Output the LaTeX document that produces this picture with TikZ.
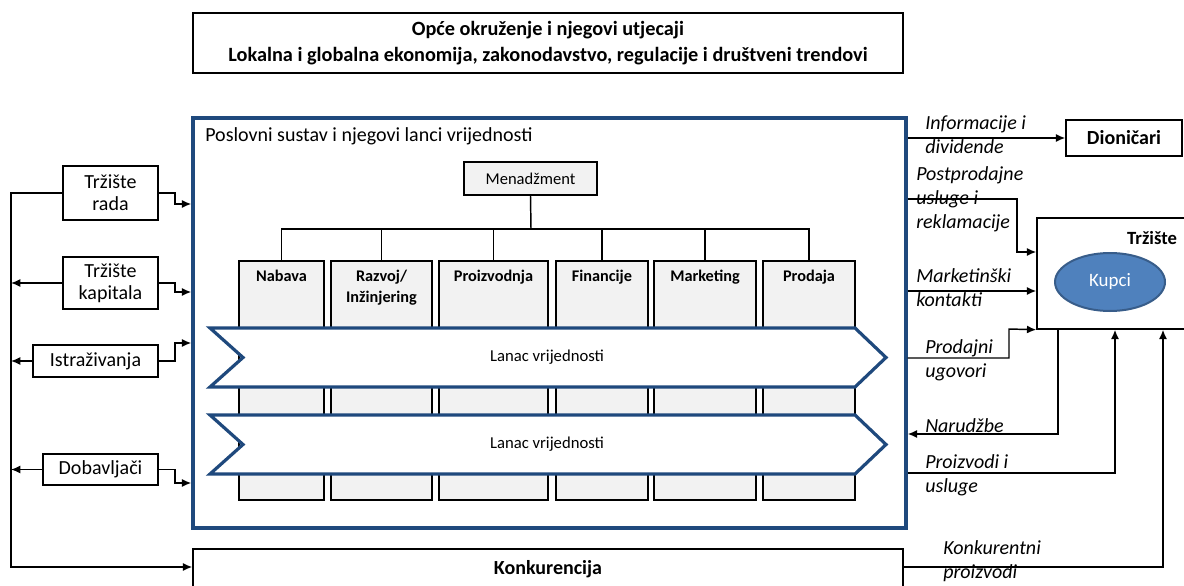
\documentclass[tikz,border=0pt]{standalone}
\usepackage{fontspec}
\setmainfont{Carlito}
\usetikzlibrary{arrows.meta,shapes.geometric}
\definecolor{navy}{RGB}{31,73,125}
\definecolor{lgray}{RGB}{242,242,242}
\definecolor{kupfill}{RGB}{79,129,189}
\definecolor{kupline}{RGB}{56,93,138}
\newlength\pxu
\setlength\pxu{0.75pt}
\begin{document}
\begin{tikzpicture}[x=0.75pt,y=-0.75pt,
  box/.style={draw, line width=1.1pt, inner sep=0pt, align=center},
  dept/.style={draw, line width=1.5pt, fill=lgray, inner sep=0pt, minimum height=239\pxu},
  depttext/.style={anchor=north, inner sep=0pt, align=center, font=\bfseries\fontsize{12.2}{15.5}\selectfont},
  chev/.style={draw=navy, fill=white, line width=2.4pt, line join=miter},
  ln/.style={line width=1.1pt},
  arr/.style={line width=1.1pt, -{Latex[length=7pt,width=6pt]}},
  lab/.style={anchor=west, align=left, inner sep=0pt, font=\itshape\fontsize{15}{18}\selectfont},
  big/.style={font=\fontsize{15}{16.5}\selectfont}
]
\useasboundingbox (0,0) rectangle (1184,585);
\clip (0,0) rectangle (1184,585);
\fill[white] (0,0) rectangle (1184,585);

% top box
\node[box, minimum width=710\pxu, minimum height=60\pxu, font=\bfseries\fontsize{15.2}{19.5}\selectfont] (env) at (548,43)
  {Opće okruženje i njegovi utjecaji\\Lokalna i globalna ekonomija, zakonodavstvo, regulacije i društveni trendovi};

% main box
\node[draw=navy, line width=2.6pt, minimum width=713\pxu, minimum height=410\pxu, inner sep=0pt] (main) at (549.5,323) {};
\node[anchor=west, inner sep=0pt, big] (maintitle) at (205,136) {Poslovni sustav i njegovi lanci vrijednosti};

% management
\node[draw, line width=1.5pt, fill=lgray, minimum width=133\pxu, minimum height=33\pxu, inner sep=0pt,
  font=\fontsize{12.4}{14}\selectfont] (men) at (530.5,178.5) {Menadžment};
\coordinate (bus) at (531,229);

% departments
\node[dept, minimum width=85\pxu]  (nab) at (281.5,380.5) {};
\node[dept, minimum width=101\pxu] (raz) at (381.5,380.5) {};
\node[dept, minimum width=109\pxu] (pro) at (493.5,380.5) {};
\node[dept, minimum width=92\pxu]  (fin) at (602,380.5) {};
\node[dept, minimum width=102\pxu] (mar) at (705,380.5) {};
\node[dept, minimum width=92\pxu]  (prd) at (809,380.5) {};
\node[depttext] (nabT) at (281.5,270) {Nabava};
\node[depttext] (razT) at (381.5,270) {Razvoj/\\Inžinjering};
\node[depttext] (proT) at (493.5,270) {Proizvodnja};
\node[depttext] (finT) at (602,270) {Financije};
\node[depttext] (marT) at (705,270) {Marketing};
\node[depttext] (prdT) at (809,270) {Prodaja};

\draw[ln] (men.south) -- (bus);
\foreach \d in {nab,raz,pro,fin,mar,prd} { \draw[ln] (\d.north) |- (bus); }

% value chains
\draw[chev] (210,328) -- (855,328) -- (886,357.5) -- (855,387) -- (210,387) -- (243,357.5) -- cycle;
\draw[chev] (210,415) -- (855,415) -- (886,444.5) -- (855,474) -- (210,474) -- (243,444.5) -- cycle;
\node[font=\fontsize{12.5}{14}\selectfont, inner sep=0pt] (lanac1) at (547,357) {Lanac vrijednosti};
\node[font=\fontsize{12.5}{14}\selectfont, inner sep=0pt] (lanac2) at (547,444) {Lanac vrijednosti};

% left boxes
\node[box, big, minimum width=95\pxu, minimum height=54\pxu] (rada) at (110.5,193) {Tržište\\rada};
\node[box, big, minimum width=95\pxu, minimum height=52\pxu] (kap) at (110.5,283) {Tržište\\kapitala};
\node[box, big, minimum width=125\pxu, minimum height=32\pxu] (istr) at (95.5,361) {Istraživanja};
\node[box, big, minimum width=115\pxu, minimum height=31\pxu] (dob) at (100.5,469.5) {Dobavljači};

% competition box
\node[box, minimum width=710\pxu, minimum height=60\pxu] (konk) at (548,579) {};
\node[inner sep=0pt, font=\bfseries\fontsize{15}{16}\selectfont] (konkT) at (548,569) {Konkurencija};

% right side boxes
\node[box, minimum width=116\pxu, minimum height=36\pxu, font=\bfseries\fontsize{15}{16}\selectfont] (dion) at (1124,138) {Dioničari};
\node[box, minimum width=170\pxu, minimum height=111\pxu] (mkt) at (1122,273.5) {};
\node[inner sep=0pt, font=\bfseries\fontsize{14}{16}\selectfont] (mktT) at (1152,238) {Tržište};
\node[ellipse, draw=kupline, line width=1.5pt, fill=kupfill, minimum width=110\pxu, minimum height=58\pxu,
  inner sep=0pt, text=white, font=\fontsize{14.2}{16}\selectfont] (kupci) at (1110,282) {Kupci};

% left connectors
\draw[arr] (rada.west) -- (11,193) |- (konk.west |- 0,567);
\draw[arr] (kap.west) -- (11,283);
\draw[arr] (istr.west) -- (11,361);
\draw[arr] (dob.west) -- (11,469.5);
\draw[arr] (rada.east) -- (175,193) |- (main.west |- 0,204);
\draw[arr] (kap.east) -- (175,283) |- (main.west |- 0,292);
\draw[arr] (istr.east) -- (175,361) |- (main.west |- 0,343);
\draw[arr] (dob.east) -- (175,469.5) |- (main.west |- 0,483);

% right connectors
\draw[arr] (main.east |- 0,138) -- (dion.west);
\draw[arr] (main.east |- 0,199) -| (1017,252) -- (mkt.west |- 0,252);
\draw[arr] (main.east |- 0,291) -- (mkt.west |- 0,291);
\draw[arr] (main.east |- 0,358) -| (1009,329) -- (mkt.south west);
\draw[arr] (mkt.south -| 1058,0) |- (main.east |- 0,434);
\draw[arr] (main.east |- 0,473) -| (mkt.south -| 1115,0);
\draw[arr] (konk.east |- 0,567) -| (mkt.south -| 1163,0);

% labels
\node[lab] (l1) at (925,135) {Informacije i\\dividende};
\node[lab] (l2) at (916,199) {Postprodajne\\usluge i\\reklamacije};
\node[lab] (l3) at (916,288) {Marketinški\\kontakti};
\node[lab] (l4) at (925,360) {Prodajni\\ugovori};
\node[lab] (l5) at (925,426) {Narudžbe};
\node[lab] (l6) at (925,475) {Proizvodi i\\usluge};
\node[lab] (l7) at (943,561) {Konkurentni\\proizvodi};
\end{tikzpicture}
\end{document}
